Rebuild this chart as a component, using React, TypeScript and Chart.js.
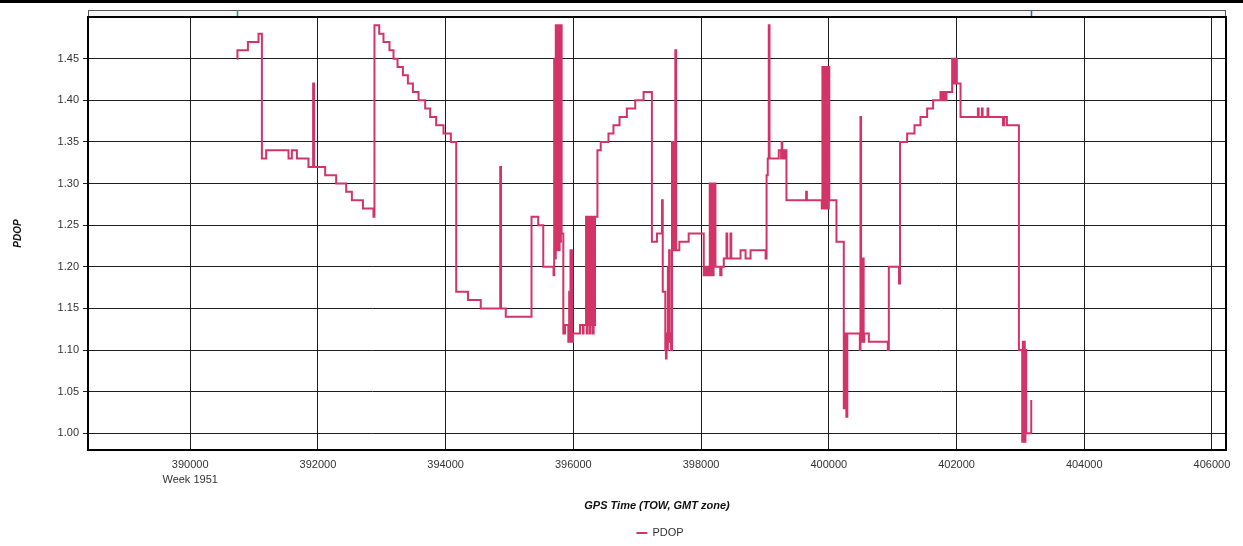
import React, { useEffect, useRef } from "react";
import { Chart, registerables } from "chart.js";

Chart.register(...registerables);

// GPS time of week (seconds) at which PDOP changes, and the PDOP value from that moment
const gpsTime = [
  390731, 390740, 390904, 391070, 391123, 391190, 391540, 391592, 391671, 391852,
  391925, 391940, 392114, 392286, 392443, 392532, 392705, 392870, 392886, 392960,
  393027, 393121, 393184, 393247, 393331, 393409, 393488, 393576, 393680, 393758,
  393852, 393967, 394082, 394166, 394350, 394550, 394855, 394868, 394942, 395345,
  395450, 395529, 395690, 395700, 395712, 395725, 395735, 395745, 395755, 395765,
  395775, 395785, 395795, 395805, 395817, 395843, 395870, 395921, 395935, 395945,
  395955, 395965, 395975, 395985, 395995, 396105, 396150, 396160, 396199, 396210,
  396222, 396234, 396246, 396258, 396270, 396282, 396294, 396306, 396318, 396330,
  396340, 396377, 396429, 396550, 396628, 396723, 396838, 396969, 397100, 397230,
  397309, 397388, 397400, 397440, 397450, 397460, 397470, 397480, 397490, 397500,
  397510, 397520, 397530, 397545, 397555, 397565, 397575, 397585, 397597, 397610,
  397660, 397806, 398042, 398070, 398080, 398100, 398110, 398136, 398146, 398156,
  398166, 398176, 398186, 398196, 398206, 398216, 398225, 398300, 398320, 398356,
  398398, 398410, 398461, 398473, 398618, 398697, 398775, 399011, 399026, 399044,
  399060, 399072, 399217, 399253, 399262, 399272, 399282, 399292, 399302, 399312,
  399322, 399337, 399645, 399657, 399890, 399900, 399910, 399920, 399930, 399940,
  399950, 399960, 399970, 399980, 399990, 400000, 400008, 400120, 400235, 400245,
  400255, 400265, 400275, 400290, 400486, 400496, 400506, 400516, 400526, 400536,
  400546, 400556, 400627, 400924, 400940, 401100, 401115, 401227, 401342, 401436,
  401540, 401634, 401749, 401760, 401775, 401790, 401805, 401820, 401843, 401932,
  401942, 401952, 401962, 401972, 401985, 401995, 402005, 402063, 402335, 402347,
  402397, 402409, 402486, 402498, 402727, 402747, 402789, 402977, 403029, 403039,
  403049, 403059, 403069, 403079, 403091, 403170,
];

const pdop = [
  1.45, 1.46, 1.47, 1.48, 1.33, 1.34, 1.33, 1.34, 1.33, 1.32,
  1.42, 1.32, 1.31, 1.30, 1.29, 1.28, 1.27, 1.26, 1.49, 1.48,
  1.47, 1.46, 1.45, 1.44, 1.43, 1.42, 1.41, 1.40, 1.39, 1.38,
  1.37, 1.36, 1.35, 1.17, 1.16, 1.15, 1.32, 1.15, 1.14, 1.26,
  1.25, 1.20, 1.19, 1.45, 1.21, 1.49, 1.22, 1.49, 1.22, 1.49,
  1.22, 1.49, 1.23, 1.49, 1.24, 1.12, 1.13, 1.11, 1.17, 1.11,
  1.22, 1.11, 1.22, 1.11, 1.12, 1.13, 1.12, 1.13, 1.26, 1.12,
  1.26, 1.13, 1.26, 1.12, 1.26, 1.13, 1.26, 1.12, 1.26, 1.13,
  1.26, 1.34, 1.35, 1.36, 1.37, 1.38, 1.39, 1.40, 1.41, 1.23,
  1.24, 1.28, 1.17, 1.10, 1.09, 1.12, 1.10, 1.20, 1.11, 1.22,
  1.11, 1.12, 1.10, 1.35, 1.22, 1.35, 1.22, 1.35, 1.46, 1.22,
  1.23, 1.24, 1.19, 1.20, 1.19, 1.20, 1.19, 1.30, 1.19, 1.30,
  1.20, 1.30, 1.19, 1.30, 1.20, 1.30, 1.20, 1.19, 1.20, 1.21,
  1.24, 1.21, 1.24, 1.21, 1.22, 1.21, 1.22, 1.21, 1.31, 1.33,
  1.49, 1.33, 1.34, 1.33, 1.35, 1.33, 1.34, 1.33, 1.34, 1.33,
  1.34, 1.28, 1.29, 1.28, 1.27, 1.44, 1.27, 1.44, 1.27, 1.44,
  1.27, 1.44, 1.27, 1.44, 1.27, 1.44, 1.28, 1.23, 1.03, 1.12,
  1.03, 1.12, 1.02, 1.12, 1.10, 1.38, 1.11, 1.21, 1.11, 1.21,
  1.11, 1.12, 1.11, 1.10, 1.20, 1.18, 1.35, 1.36, 1.37, 1.38,
  1.39, 1.40, 1.41, 1.40, 1.41, 1.40, 1.41, 1.40, 1.41, 1.45,
  1.42, 1.45, 1.42, 1.45, 1.42, 1.45, 1.42, 1.38, 1.39, 1.38,
  1.39, 1.38, 1.39, 1.38, 1.37, 1.38, 1.37, 1.10, 0.99, 1.11,
  0.99, 1.11, 0.99, 1.10, 1.00, 1.04,
];

const xTickValues = [390000, 392000, 394000, 396000, 398000, 400000, 402000, 404000, 406000];
const yTickValues = [1.0, 1.05, 1.1, 1.15, 1.2, 1.25, 1.3, 1.35, 1.4, 1.45];
const weekLabel = "Week 1951";
const seriesLabel = "PDOP";
const xTitle = "GPS Time (TOW, GMT zone)";
const yTitle = "PDOP";

const LINE_COLOR = "#d23468";
const FONT = "'Liberation Sans', Arial, sans-serif";

const decorPlugin = {
  id: "decor",
  beforeDraw(chart: any) {
    const { ctx, width, height } = chart;
    ctx.save();
    ctx.fillStyle = "#ffffff";
    ctx.fillRect(0, 0, width, height);
    ctx.restore();
  },
  afterDraw(chart: any) {
    const { ctx, chartArea, scales, width } = chart;
    const { left, right, top, bottom } = chartArea;
    const xs = scales.x;
    ctx.save();
    // top black band
    ctx.fillStyle = "#000";
    ctx.fillRect(0, 0, width, 3);
    // range navigator strip
    ctx.fillStyle = "#f6f6f6";
    ctx.fillRect(left, 10, right - left, top - 10);
    ctx.strokeStyle = "#555";
    ctx.lineWidth = 1;
    ctx.strokeRect(left + 0.5, 10.5, right - left - 1, top - 10);
    const x0 = Math.round(xs.getPixelForValue(gpsTime[0])) + 0.5;
    const x1 = Math.round(xs.getPixelForValue(gpsTime[gpsTime.length - 1])) + 0.5;
    ctx.lineWidth = 1.5;
    ctx.strokeStyle = "#1f9a6c";
    ctx.beginPath();
    ctx.moveTo(x0, 10);
    ctx.lineTo(x0, top);
    ctx.stroke();
    ctx.strokeStyle = "#2d6c8c";
    ctx.beginPath();
    ctx.moveTo(x1, 10);
    ctx.lineTo(x1, top);
    ctx.stroke();
    // plot frame
    ctx.strokeStyle = "#000";
    ctx.lineWidth = 2;
    ctx.strokeRect(left, top, right - left, bottom - top);
    // legend
    const ds = chart.data.datasets[0];
    ctx.font = `11px ${FONT}`;
    const label = ds.label as string;
    const tw = ctx.measureText(label).width;
    const lineW = 11;
    const gap = 5;
    const total = lineW + gap + tw;
    const cx = (left + right) / 2 + 3;
    const lx = cx - total / 2;
    const ly = 533;
    ctx.strokeStyle = ds.borderColor;
    ctx.lineWidth = 2;
    ctx.beginPath();
    ctx.moveTo(lx, ly);
    ctx.lineTo(lx + lineW, ly);
    ctx.stroke();
    ctx.fillStyle = "#333";
    ctx.textBaseline = "middle";
    ctx.textAlign = "left";
    ctx.fillText(label, lx + lineW + gap, ly);
    ctx.restore();
  },
};

export default function App() {
  const ref = useRef<HTMLCanvasElement>(null);

  useEffect(() => {
    document.body.style.margin = "0";
    const canvas = ref.current;
    if (!canvas) return;
    const points = gpsTime.map((t, i) => ({ x: t, y: pdop[i] }));
    const chart = new Chart(canvas, {
      type: "line",
      data: {
        datasets: [
          {
            label: seriesLabel,
            data: points,
            borderColor: LINE_COLOR,
            backgroundColor: LINE_COLOR,
            borderWidth: 2,
            pointRadius: 0,
            stepped: "before",
            tension: 0,
            fill: false,
          },
        ],
      },
      options: {
        animation: false,
        responsive: false,
        maintainAspectRatio: false,
        layout: { padding: { top: 17, right: 17, left: 0, bottom: 0 } },
        plugins: {
          legend: { display: false },
          tooltip: { enabled: false },
        },
        scales: {
          x: {
            type: "linear",
            min: 388400,
            max: 406220,
            afterBuildTicks: (scale: any) => {
              scale.ticks = xTickValues.map((v) => ({ value: v }));
            },
            afterFit: (scale: any) => {
              scale.height = 96;
              scale.paddingLeft = 0;
              scale.paddingRight = 0;
            },
            grid: { color: "#1e1e1e", lineWidth: 1, drawTicks: false },
            border: { display: false },
            ticks: {
              padding: 8,
              color: "#333",
              maxRotation: 0,
              autoSkip: false,
              font: { family: FONT, size: 11, lineHeight: 1.35 },
              callback: (v: any) => (v === xTickValues[0] ? [String(v), weekLabel] : String(v)),
            },
            title: {
              display: true,
              text: xTitle,
              color: "#111",
              font: { family: FONT, size: 11, weight: "bold", style: "italic" },
              padding: { top: 0, bottom: 33 },
            },
          },
          y: {
            type: "linear",
            min: 0.98,
            max: 1.5,
            afterBuildTicks: (scale: any) => {
              scale.ticks = yTickValues.map((v) => ({ value: v }));
            },
            afterFit: (scale: any) => {
              scale.width = 88;
              scale.paddingTop = 0;
              scale.paddingBottom = 0;
            },
            grid: { color: "#1e1e1e", lineWidth: 1, drawTicks: true, tickLength: 5 },
            border: { display: false },
            ticks: {
              padding: 4,
              color: "#333",
              autoSkip: false,
              font: { family: FONT, size: 11 },
              callback: (v: any) => Number(v).toFixed(2),
            },
            title: {
              display: true,
              text: yTitle,
              color: "#111",
              font: { family: FONT, size: 10, weight: "bold", style: "italic" },
              padding: { top: 12, bottom: 0 },
            },
          },
        },
      } as any,
      plugins: [decorPlugin],
    });
    return () => chart.destroy();
  }, []);

  return (
    <div style={{ width: 1243, height: 546, background: "#fff" }}>
      <canvas ref={ref} width={1243} height={546} style={{ display: "block" }} />
    </div>
  );
}
